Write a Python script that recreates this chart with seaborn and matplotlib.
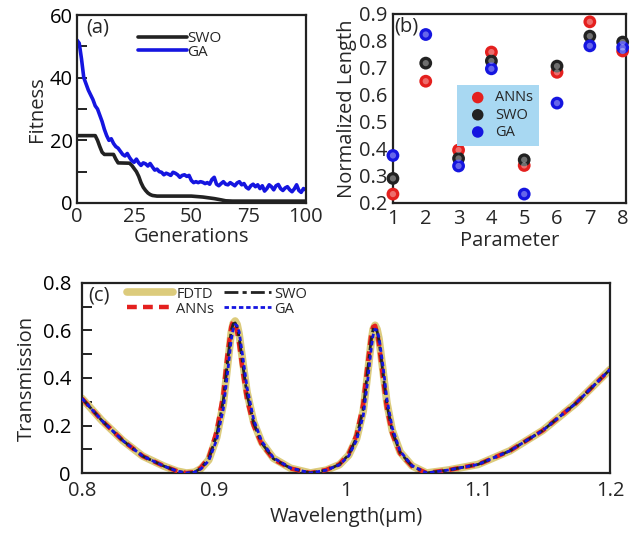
import numpy as np
import pandas as pd
import matplotlib
matplotlib.use("Agg")
import matplotlib.pyplot as plt
import seaborn as sns
from matplotlib.ticker import MultipleLocator

# ---------------- data ----------------
# (a) fitness vs generations
swo_gen = [0, 8, 9, 10, 11, 12, 16, 17, 18, 23, 24, 25, 26, 27, 28, 29, 30, 31, 32, 33, 35,
           50, 55, 57, 60, 63, 65, 68, 100]
swo_fit = [21.5, 21.5, 20, 18, 16.2, 15.5, 15.5, 14, 12.8, 12.7, 12, 11, 10, 8.5, 6.5, 5, 4, 3.2, 2.7, 2.4, 2.2,
           2.2, 1.9, 1.7, 1.4, 1.0, 0.7, 0.6, 0.6]
ga_gen = list(range(101))
ga_fit = [52, 51, 46, 40, 38, 36, 34.5, 33, 31, 30,
          28, 26, 23.5, 21.5, 20, 20.5, 19, 18, 17.5, 16.5,
          15.5, 15, 15.8, 14.5, 13.5, 13, 14, 12.8, 12, 12.8,
          12.5, 11.8, 12.6, 11.5, 10.5, 10.8, 10, 9.8, 9, 9.5,
          9.2, 8.8, 9.8, 9.5, 9, 8.2, 8.8, 9, 8.5, 8.8,
          7.2, 6.5, 6.8, 6.5, 6.8, 6.6, 6.2, 6.5, 6, 7.5,
          8.2, 6, 5.5, 6.2, 6.8, 6, 5.8, 6.5, 6, 5.5,
          6.4, 6.8, 5.8, 6.2, 5, 4.5, 5.5, 6, 5.2, 5.8,
          4.6, 5.5, 3.8, 4.6, 5.8, 5.2, 4.2, 5.5, 5.9, 4.6,
          4, 4.8, 5.2, 4.2, 3.6, 4.5, 5.8, 4, 3.4, 4.6, 4.2]

# (b) normalized length per parameter
params = [1, 2, 3, 4, 5, 6, 7, 8]
anns_len = [0.233, 0.651, 0.396, 0.759, 0.339, 0.684, 0.871, 0.763]
swo_len = [0.291, 0.718, 0.365, 0.726, 0.360, 0.707, 0.818, 0.796]
ga_len = [0.376, 0.824, 0.337, 0.697, 0.233, 0.570, 0.782, 0.776]

# (c) transmission spectra
wl = [0.800, 0.815, 0.831, 0.846, 0.862, 0.872, 0.879, 0.885, 0.890, 0.896,
      0.902, 0.907, 0.910, 0.913, 0.9145, 0.916, 0.9175, 0.919, 0.922, 0.925,
      0.930, 0.936, 0.945, 0.958, 0.973, 0.985, 0.995, 1.002, 1.008, 1.013,
      1.016, 1.019, 1.0205, 1.022, 1.0235, 1.025, 1.028, 1.031, 1.035, 1.041,
      1.050, 1.061, 1.078, 1.100, 1.124, 1.149, 1.174, 1.200]
fdtd_t = [0.314, 0.221, 0.136, 0.071, 0.029, 0.008, 0.000, 0.003, 0.018, 0.055,
          0.150, 0.290, 0.440, 0.590, 0.630, 0.640, 0.625, 0.585, 0.460, 0.340,
          0.215, 0.130, 0.062, 0.020, 0.000, 0.012, 0.035, 0.075, 0.145, 0.260,
          0.400, 0.550, 0.605, 0.622, 0.605, 0.565, 0.430, 0.295, 0.180, 0.088,
          0.030, 0.000, 0.013, 0.036, 0.093, 0.179, 0.293, 0.436]
anns_t = [0.314, 0.221, 0.136, 0.071, 0.029, 0.008, 0.000, 0.004, 0.022, 0.065,
          0.175, 0.330, 0.490, 0.615, 0.638, 0.630, 0.595, 0.545, 0.420, 0.310,
          0.200, 0.122, 0.058, 0.019, 0.000, 0.013, 0.037, 0.080, 0.160, 0.290,
          0.440, 0.580, 0.615, 0.620, 0.590, 0.540, 0.400, 0.270, 0.165, 0.082,
          0.028, 0.000, 0.013, 0.036, 0.093, 0.179, 0.293, 0.436]
swo_t = [0.314, 0.221, 0.136, 0.071, 0.029, 0.008, 0.000, 0.003, 0.020, 0.060,
         0.160, 0.305, 0.460, 0.600, 0.628, 0.632, 0.612, 0.570, 0.445, 0.330,
         0.210, 0.127, 0.060, 0.020, 0.000, 0.012, 0.036, 0.077, 0.150, 0.270,
         0.415, 0.560, 0.605, 0.615, 0.598, 0.555, 0.420, 0.285, 0.175, 0.086,
         0.029, 0.000, 0.013, 0.036, 0.093, 0.179, 0.293, 0.436]
ga_t = [0.314, 0.221, 0.136, 0.071, 0.029, 0.008, 0.000, 0.003, 0.017, 0.052,
        0.140, 0.270, 0.410, 0.560, 0.605, 0.625, 0.620, 0.595, 0.480, 0.360,
        0.225, 0.135, 0.064, 0.021, 0.000, 0.012, 0.034, 0.072, 0.138, 0.240,
        0.370, 0.520, 0.580, 0.605, 0.600, 0.570, 0.450, 0.310, 0.190, 0.092,
        0.031, 0.000, 0.013, 0.036, 0.093, 0.179, 0.293, 0.436]

# ---------------- style ----------------
sns.set_style("ticks")
plt.rcParams["font.family"] = ["Open Sans", "DejaVu Sans"]
plt.rcParams["axes.linewidth"] = 1.6
plt.rcParams["axes.edgecolor"] = "#222222"
plt.rcParams["xtick.direction"] = "in"
plt.rcParams["ytick.direction"] = "in"

RED = "#e4201e"
BLACK = "#222222"
BLUE = "#1515e0"
KHAKI = "#dccb7c"

fig = plt.figure(figsize=(6.41, 5.38), dpi=100)
ax_a = fig.add_axes([0.120, 0.6227, 0.357, 0.3494])
ax_b = fig.add_axes([0.613, 0.6227, 0.3635, 0.3513])
ax_c = fig.add_axes([0.128, 0.1208, 0.8237, 0.3532])

TICK_FS = 14.5
LAB_FS = 14.5

# ---------------- (a) ----------------
df_swo = pd.DataFrame({"gen": swo_gen, "fit": swo_fit})
df_ga = pd.DataFrame({"gen": ga_gen, "fit": ga_fit})
sns.lineplot(data=df_swo, x="gen", y="fit", ax=ax_a, color=BLACK, lw=2.6, label="SWO")
sns.lineplot(data=df_ga, x="gen", y="fit", ax=ax_a, color=BLUE, lw=2.6, label="GA")
ax_a.set_xlim(0, 100)
ax_a.set_ylim(0, 60)
ax_a.set_xticks([0, 25, 50, 75, 100])
ax_a.set_yticks([0, 20, 40, 60])
ax_a.yaxis.set_minor_locator(MultipleLocator(10))
ax_a.set_xlabel("Generations", fontsize=LAB_FS, labelpad=0)
ax_a.set_ylabel("Fitness", fontsize=LAB_FS, labelpad=2)
ax_a.tick_params(axis="both", labelsize=TICK_FS, pad=3)
ax_a.tick_params(axis="y", which="major", length=7, width=1.4, colors=BLACK, labelcolor="black")
ax_a.tick_params(axis="y", which="minor", length=7, width=1.4, colors=BLACK)
ax_a.tick_params(axis="x", length=0)
ax_a.text(0.04, 0.985, "(a)", transform=ax_a.transAxes, fontsize=TICK_FS, va="top", ha="left")
ax_a.legend(loc="upper left", bbox_to_anchor=(0.22, 0.97), frameon=False, fontsize=11,
            handlelength=3.2, handletextpad=0.05, labelspacing=-0.1, borderpad=0.2)

# ---------------- (b) ----------------
for vals, col, lab in [(anns_len, RED, "ANNs"), (swo_len, BLACK, "SWO"), (ga_len, BLUE, "GA")]:
    dfb = pd.DataFrame({"param": params, "len": vals})
    sns.scatterplot(data=dfb, x="param", y="len", ax=ax_b, color=col, s=85, edgecolor="none",
                    label=lab, clip_on=False, zorder=3)
    sns.scatterplot(data=dfb, x="param", y="len", ax=ax_b, color="white", alpha=0.35, s=20,
                    edgecolor="none", clip_on=False, zorder=4, legend=False)
ax_b.set_xlim(1, 8.1)
ax_b.set_ylim(0.2, 0.9)
ax_b.set_xticks(params)
ax_b.set_yticks([0.2, 0.3, 0.4, 0.5, 0.6, 0.7, 0.8, 0.9])
ax_b.set_xlabel("Parameter", fontsize=LAB_FS, labelpad=2)
ax_b.set_ylabel("Normalized Length", fontsize=LAB_FS, labelpad=1)
ax_b.tick_params(axis="both", labelsize=TICK_FS, length=0, pad=4)
ax_b.text(0.005, 0.985, "(b)", transform=ax_b.transAxes, fontsize=TICK_FS, va="top", ha="left")
hb = ax_b.legend(loc="upper left", bbox_to_anchor=(0.245, 0.665), frameon=True, fontsize=10.5,
                 handletextpad=0.2, labelspacing=0.15, borderpad=0.4, markerscale=0.9,
                 fancybox=False)
hb.get_frame().set_facecolor("#a8d8f2")
hb.get_frame().set_edgecolor("none")
hb.get_frame().set_alpha(1)

# ---------------- (c) ----------------
dfc = pd.DataFrame({"wl": wl, "FDTD": fdtd_t, "ANNs": anns_t, "SWO": swo_t, "GA": ga_t})
sns.lineplot(data=dfc, x="wl", y="FDTD", ax=ax_c, color=KHAKI, lw=5.5, label="FDTD", zorder=2)
sns.lineplot(data=dfc, x="wl", y="ANNs", ax=ax_c, color=RED, lw=3.2, label="ANNs", zorder=3,
             linestyle=(0, (2.2, 1.4)))
sns.lineplot(data=dfc, x="wl", y="SWO", ax=ax_c, color=BLACK, lw=2.0, label="SWO", zorder=4,
             linestyle=(0, (5, 1.5, 1.5, 1.5)))
sns.lineplot(data=dfc, x="wl", y="GA", ax=ax_c, color=BLUE, lw=2.0, label="GA", zorder=5,
             linestyle=(0, (1.6, 1.0)))
ax_c.set_xlim(0.8, 1.2)
ax_c.set_ylim(0, 0.8)
ax_c.set_xticks([0.8, 0.9, 1.0, 1.1, 1.2])
ax_c.set_xticklabels(["0.8", "0.9", "1", "1.1", "1.2"])
ax_c.set_yticks([0, 0.2, 0.4, 0.6, 0.8])
ax_c.set_yticklabels(["0", "0.2", "0.4", "0.6", "0.8"])
ax_c.yaxis.set_minor_locator(MultipleLocator(0.1))
ax_c.set_xlabel("Wavelength(\u03bcm)", fontsize=LAB_FS, labelpad=4)
ax_c.set_ylabel("Transmission", fontsize=LAB_FS, labelpad=4)
ax_c.tick_params(axis="x", labelsize=TICK_FS, pad=6, length=0)
ax_c.tick_params(axis="y", labelsize=TICK_FS, pad=8)
ax_c.tick_params(axis="y", which="both", length=7, width=1.4, colors=BLACK)
ax_c.tick_params(axis="y", labelcolor="black")
ax_c.text(0.012, 0.985, "(c)", transform=ax_c.transAxes, fontsize=TICK_FS, va="top", ha="left")
ax_c.legend(loc="upper left", bbox_to_anchor=(0.065, 1.035), ncol=2, frameon=False, fontsize=10.5,
            handlelength=3.2, handletextpad=0.2, labelspacing=0.0, columnspacing=0.7,
            borderpad=0.2)

for ax in (ax_a, ax_b, ax_c):
    for sp in ax.spines.values():
        sp.set_visible(True)
        sp.set_linewidth(1.6)
        sp.set_color(BLACK)

fig.savefig("out.png", dpi=100)
